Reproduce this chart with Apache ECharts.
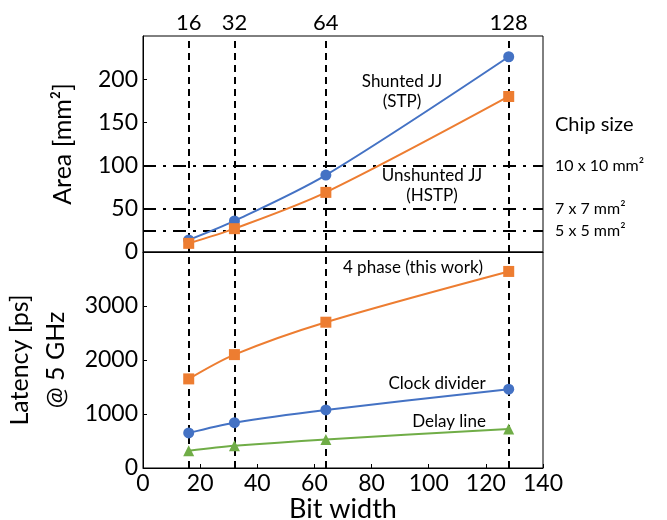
<!DOCTYPE html>
<html>
<head>
<meta charset="utf-8">
<script src="https://cdn.jsdelivr.net/npm/echarts@6/dist/echarts.min.js"></script>
<style>
  html, body { margin: 0; padding: 0; background: #fff; }
  #chart { width: 667px; height: 520px; }
</style>
</head>
<body>
<div id="chart"></div>
<script>
const bitWidths = [16, 32, 64, 128]
const areaShunted = [14, 36, 89, 226]
const areaUnshunted = [10, 27, 69, 180]
const latency4Phase = [1650, 2100, 2700, 3640]
const latencyClockDiv = [650, 840, 1075, 1460]
const latencyDelayLine = [320, 410, 530, 720]
const chipSizeLevels = [100, 50, 25]
const chipSizeLabels = ['10 x 10 mm²', '7 x 7 mm²', '5 x 5 mm²']

const FONT = 'Lato'
const BLUE = '#4472c4'
const ORANGE = '#ed7d31'
const GREEN = '#70ad47'

const pairs = (vals) => bitWidths.map((b, i) => [b, vals[i]])

const vDash = { color: '#000', width: 2, type: [7, 5] }
const dashDot = { color: '#000', width: 2, type: [13, 7, 3, 7] }

function lineSeries(name, vals, color, symbol, idx, extra) {
  return Object.assign({
    name,
    type: 'line',
    xAxisIndex: idx,
    yAxisIndex: idx,
    data: pairs(vals),
    smooth: 0.3,
    symbol,
    symbolSize: 11,
    lineStyle: { color, width: 2 },
    itemStyle: { color },
    z: 5
  }, extra || {})
}

const chart = echarts.init(document.getElementById('chart'))
chart.setOption({
  animation: false,
  textStyle: { fontFamily: FONT },
  grid: [
    { left: 143, right: 124, top: 36, height: 216, show: true, borderColor: '#000', borderWidth: 1, outerBoundsMode: 'none', containLabel: false },
    { left: 143, right: 124, top: 252, height: 216, show: true, borderColor: '#000', borderWidth: 1, outerBoundsMode: 'none', containLabel: false }
  ],
  xAxis: [
    {
      gridIndex: 0, type: 'value', min: 0, max: 140, interval: 20,
      axisLabel: { show: false }, axisTick: { show: false },
      axisLine: { lineStyle: { color: '#000' } }, splitLine: { show: false }
    },
    {
      gridIndex: 1, type: 'value', min: 0, max: 140, interval: 20,
      axisLabel: { color: '#000', fontSize: 23, fontFamily: FONT, margin: 4 },
      axisTick: { inside: true, length: 4, lineStyle: { color: '#000' } },
      axisLine: { lineStyle: { color: '#000' } }, splitLine: { show: false },
      name: 'Bit width', nameLocation: 'middle', nameGap: 26,
      nameTextStyle: { color: '#000', fontSize: 27, fontFamily: FONT }
    }
  ],
  yAxis: [
    {
      gridIndex: 0, type: 'value', min: 0, max: 250, interval: 50,
      axisLabel: { color: '#000', fontSize: 23, fontFamily: FONT, margin: 5, showMaxLabel: false },
      axisTick: { inside: true, length: 4, lineStyle: { color: '#000' } },
      axisLine: { lineStyle: { color: '#000' } }, splitLine: { show: false },
      name: 'Area [mm²]', nameLocation: 'middle', nameGap: 68,
      nameTextStyle: { color: '#000', fontSize: 25, fontFamily: FONT }
    },
    {
      gridIndex: 1, type: 'value', min: 0, max: 4000, interval: 1000,
      axisLabel: { color: '#000', fontSize: 23, fontFamily: FONT, margin: 5, showMaxLabel: false, formatter: (v) => String(v) },
      axisTick: { inside: true, length: 4, lineStyle: { color: '#000' } },
      axisLine: { lineStyle: { color: '#000' } }, splitLine: { show: false },
      name: 'Latency [ps]\n@ 5 GHz', nameLocation: 'middle', nameGap: 67,
      nameTextStyle: { color: '#000', fontSize: 25, fontFamily: FONT, lineHeight: 36 }
    }
  ],
  series: [
    lineSeries('Shunted JJ (STP)', areaShunted, BLUE, 'circle', 0, {
      markLine: {
        silent: true, symbol: 'none',
        lineStyle: vDash,
        label: { show: true, position: 'end', distance: 2, color: '#000', fontSize: 22, fontFamily: FONT, formatter: (p) => p.value },
        data: bitWidths.map((b) => ({ xAxis: b }))
      }
    }),
    lineSeries('Unshunted JJ (HSTP)', areaUnshunted, ORANGE, 'rect', 0, {
      markLine: {
        silent: true, symbol: 'none',
        lineStyle: dashDot,
        label: { show: true, position: 'end', distance: 12, color: '#000', fontSize: 16, fontFamily: FONT },
        data: chipSizeLevels.map((v, i) => ({ yAxis: v, label: { formatter: chipSizeLabels[i] } }))
      }
    }),
    lineSeries('4 phase (this work)', latency4Phase, ORANGE, 'rect', 1, {
      markLine: {
        silent: true, symbol: 'none',
        lineStyle: vDash,
        label: { show: false },
        data: bitWidths.map((b) => ({ xAxis: b }))
      }
    }),
    lineSeries('Clock divider', latencyClockDiv, BLUE, 'circle', 1),
    lineSeries('Delay line', latencyDelayLine, GREEN, 'triangle', 1)
  ],
  graphic: [
    { type: 'text', left: 555, top: 115, style: { text: 'Chip size', font: '20px ' + FONT, fill: '#000' } },
    { type: 'text', x: 402, y: 92, style: { text: 'Shunted JJ\n(STP)', font: '17px ' + FONT, fill: '#000', align: 'center', verticalAlign: 'middle', lineHeight: 20 } },
    { type: 'text', x: 432, y: 186, style: { text: 'Unshunted JJ\n(HSTP)', font: '17px ' + FONT, fill: '#000', align: 'center', verticalAlign: 'middle', lineHeight: 20 } },
    { type: 'text', x: 413, y: 268, style: { text: '4 phase (this work)', font: '17px ' + FONT, fill: '#000', align: 'center', verticalAlign: 'middle' } },
    { type: 'text', x: 437, y: 384, style: { text: 'Clock divider', font: '17px ' + FONT, fill: '#000', align: 'center', verticalAlign: 'middle' } },
    { type: 'text', x: 449, y: 422, style: { text: 'Delay line', font: '17px ' + FONT, fill: '#000', align: 'center', verticalAlign: 'middle' } }
  ]
})
</script>
</body>
</html>
